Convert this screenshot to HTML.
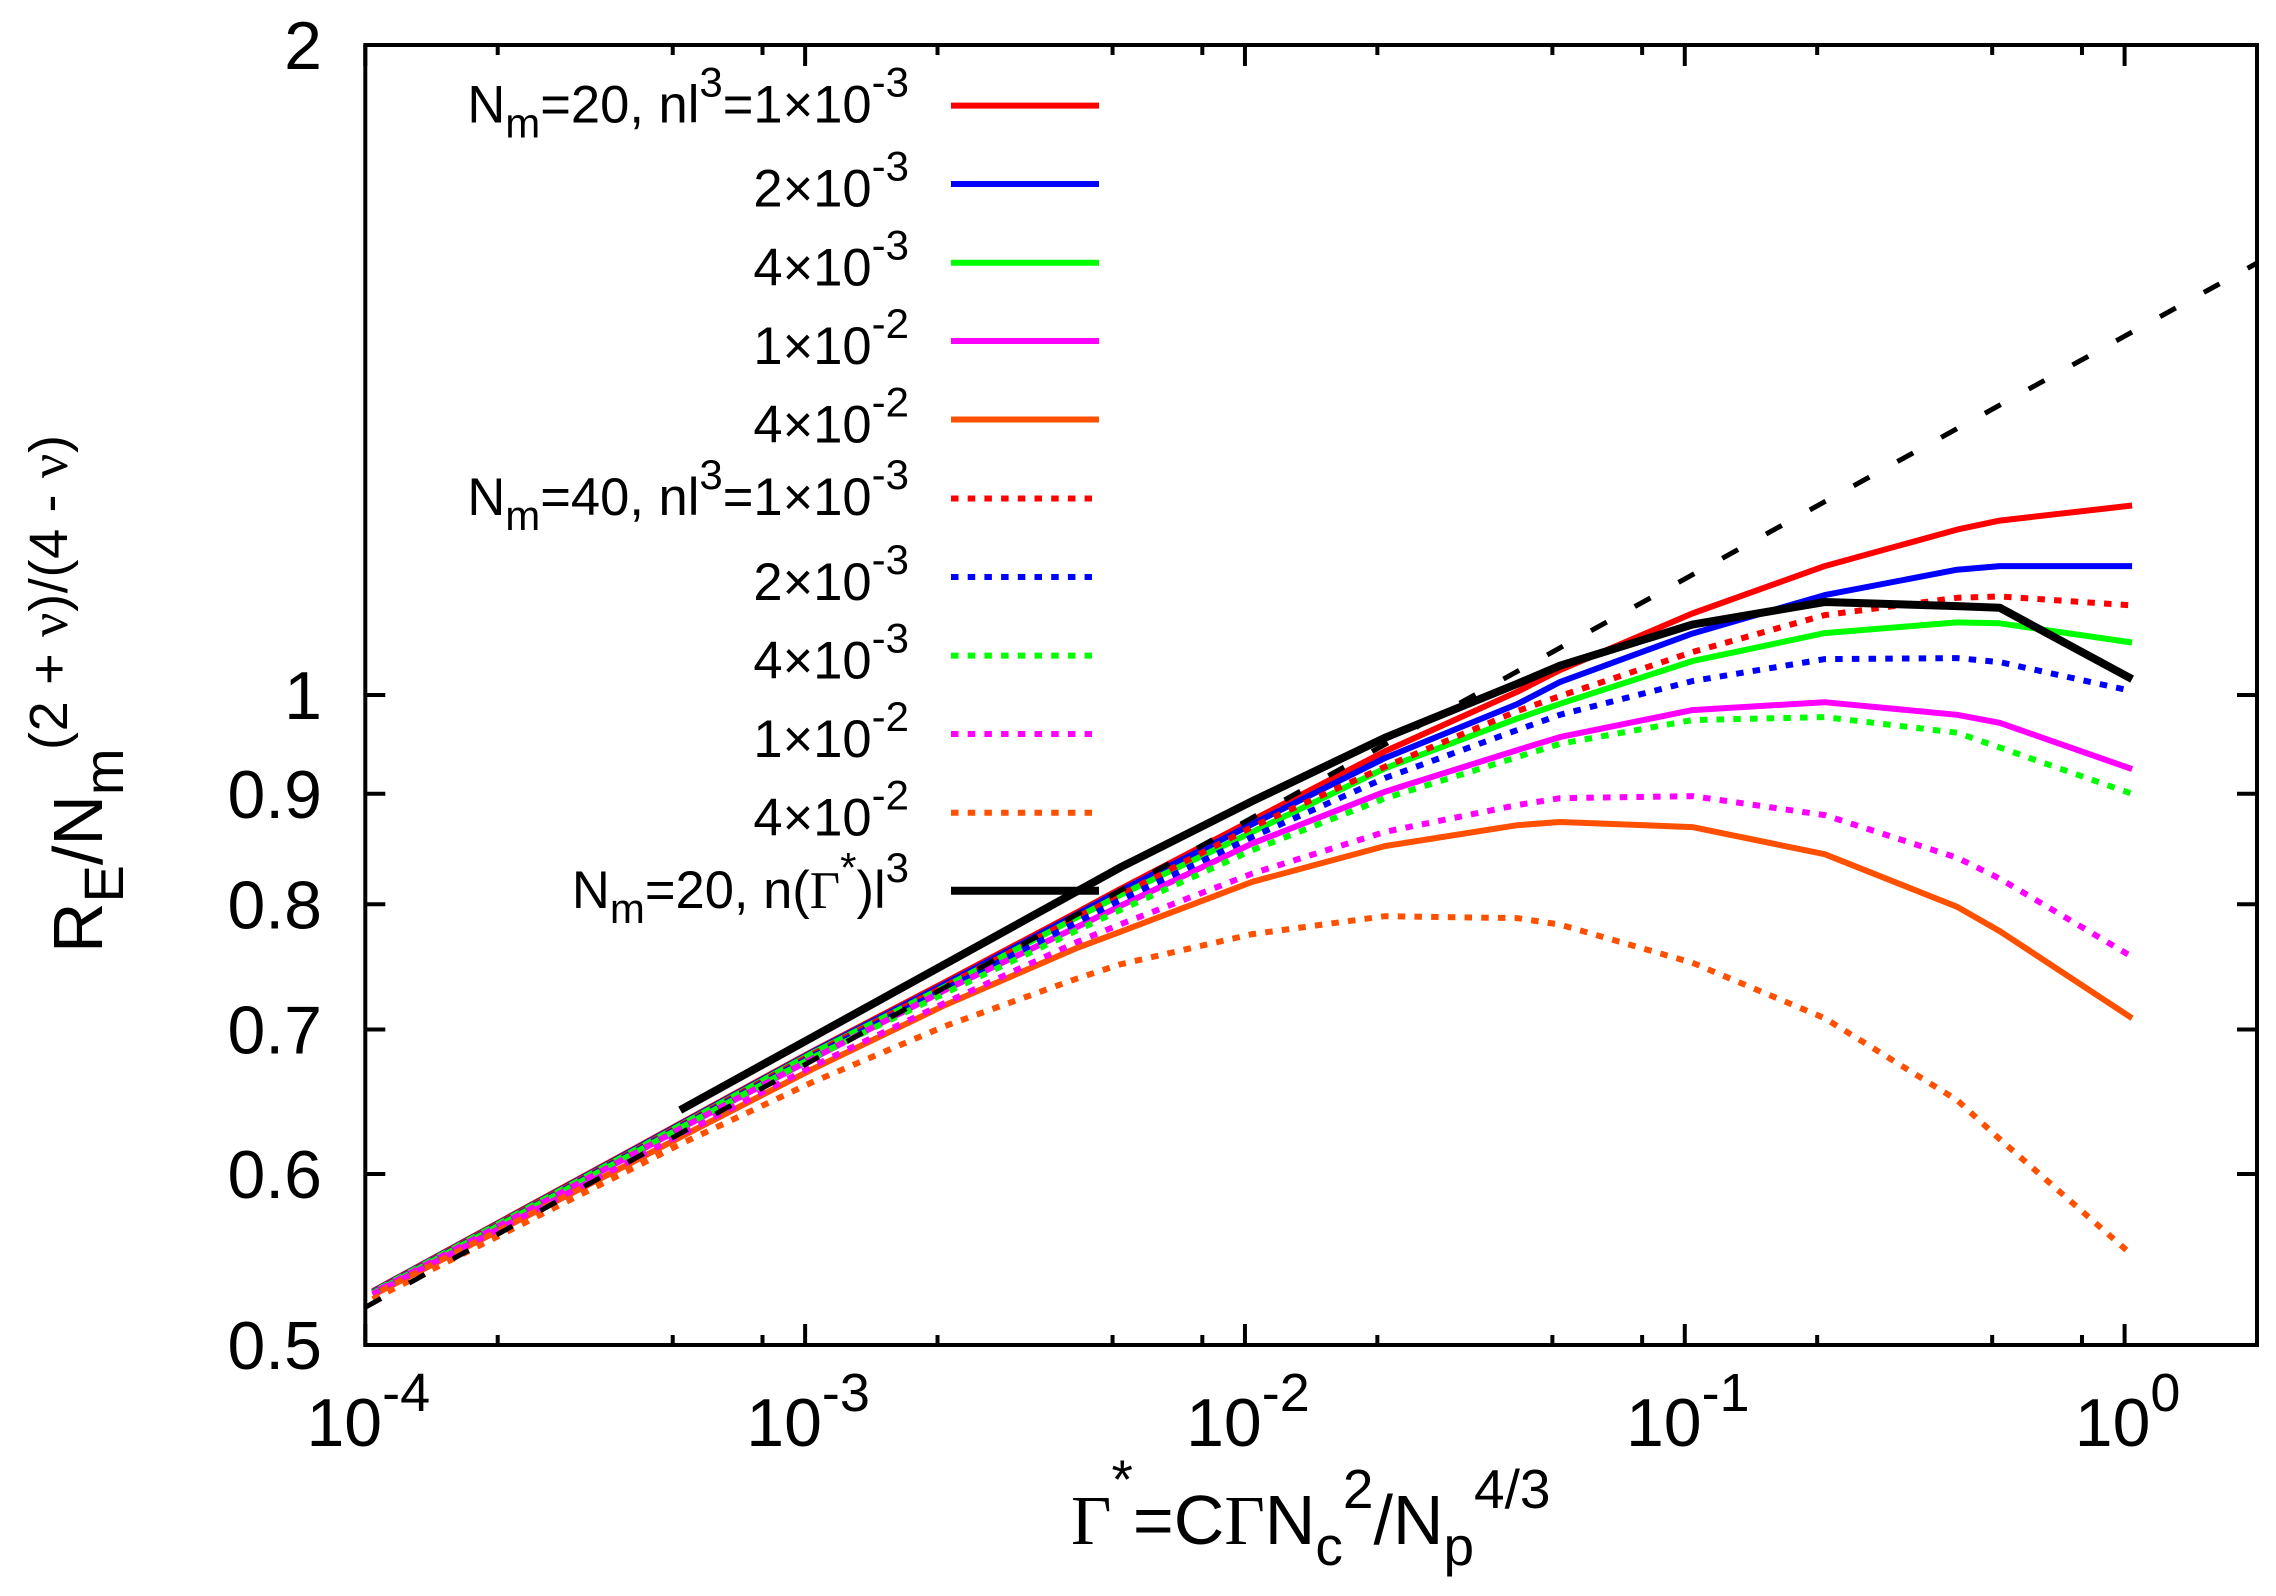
<!DOCTYPE html>
<html lang="en">
<head>
<meta charset="utf-8">
<title>R_E scaling chart</title>
<style>
html,body{margin:0;padding:0;background:#fff;}
svg{display:block;}
text{font-family:"Liberation Sans",sans-serif;fill:#000;}
.g{font-family:"Liberation Serif",serif;}
.leg{font-size:52.5px;text-anchor:end;}
</style>
</head>
<body>
<svg id="chart" xmlns="http://www.w3.org/2000/svg" width="2276" height="1596" viewBox="0 0 2276 1596">
<rect x="0" y="0" width="2276" height="1596" fill="#fff"/>
<g id="marks"></g>
<g id="axes"></g>

<g id="legend">
<text class="leg" x="909" y="122.5">N<tspan font-size="42" dy="15">m</tspan><tspan dy="-15">=20, nl</tspan><tspan font-size="42" dy="-26">3</tspan><tspan dy="26">=1×10</tspan><tspan font-size="42" dy="-26">-3</tspan></text>
<line x1="951" x2="1099" y1="105.6" y2="105.6" stroke="#ff0000" stroke-width="6"/>
<text class="leg" x="909" y="206.5">2×10<tspan font-size="42" dy="-26">-3</tspan></text>
<line x1="951" x2="1099" y1="184" y2="184" stroke="#0000ff" stroke-width="6"/>
<text class="leg" x="909" y="285.5">4×10<tspan font-size="42" dy="-26">-3</tspan></text>
<line x1="951" x2="1099" y1="262.7" y2="262.7" stroke="#00ff00" stroke-width="6"/>
<text class="leg" x="909" y="364">1×10<tspan font-size="42" dy="-26">-2</tspan></text>
<line x1="951" x2="1099" y1="341" y2="341" stroke="#ff00ff" stroke-width="6"/>
<text class="leg" x="909" y="442.5">4×10<tspan font-size="42" dy="-26">-2</tspan></text>
<line x1="951" x2="1099" y1="419.5" y2="419.5" stroke="#ff5000" stroke-width="6"/>
<text class="leg" x="909" y="515">N<tspan font-size="42" dy="15">m</tspan><tspan dy="-15">=40, nl</tspan><tspan font-size="42" dy="-26">3</tspan><tspan dy="26">=1×10</tspan><tspan font-size="42" dy="-26">-3</tspan></text>
<line x1="951" x2="1092" y1="498.5" y2="498.5" stroke="#ff0000" stroke-width="6" stroke-dasharray="7.5 9.2"/>
<text class="leg" x="909" y="600">2×10<tspan font-size="42" dy="-26">-3</tspan></text>
<line x1="951" x2="1092" y1="577" y2="577" stroke="#0000ff" stroke-width="6" stroke-dasharray="7.5 9.2"/>
<text class="leg" x="909" y="678.5">4×10<tspan font-size="42" dy="-26">-3</tspan></text>
<line x1="951" x2="1092" y1="655.6" y2="655.6" stroke="#00ff00" stroke-width="6" stroke-dasharray="7.5 9.2"/>
<text class="leg" x="909" y="757">1×10<tspan font-size="42" dy="-26">-2</tspan></text>
<line x1="951" x2="1092" y1="734" y2="734" stroke="#ff00ff" stroke-width="6" stroke-dasharray="7.5 9.2"/>
<text class="leg" x="909" y="835.5">4×10<tspan font-size="42" dy="-26">-2</tspan></text>
<line x1="951" x2="1092" y1="812.8" y2="812.8" stroke="#ff5000" stroke-width="6" stroke-dasharray="7.5 9.2"/>
<text class="leg" x="909" y="908">N<tspan font-size="42" dy="15">m</tspan><tspan dy="-15">=20, n(</tspan><tspan class="g">Γ</tspan><tspan font-size="42" dy="-26">*</tspan><tspan dy="26">)l</tspan><tspan font-size="42" dy="-26">3</tspan></text>
<line x1="951" x2="1099" y1="890.7" y2="890.7" stroke="#000" stroke-width="8"/>
</g>

<text x="1071" y="1544" font-size="70"><tspan class="g">Γ</tspan><tspan font-size="55" dy="-46">*</tspan><tspan dy="46">=C</tspan><tspan class="g">Γ</tspan><tspan>N</tspan><tspan font-size="55" dy="21">c</tspan><tspan font-size="55" dy="-57">2</tspan><tspan dy="36">/N</tspan><tspan font-size="55" dy="21">p</tspan><tspan font-size="55" dy="-57">4/3</tspan></text>

<g>
<text transform="translate(102,953) rotate(-90)" font-size="70">R<tspan font-size="56" dy="21">E</tspan><tspan dy="-21">/N</tspan><tspan font-size="56" dy="21">m</tspan></text>
<text transform="translate(67,750) rotate(-90)" font-size="54" textLength="315" lengthAdjust="spacing">(2 + <tspan class="g">ν</tspan>)/(4 - <tspan class="g">ν</tspan>)</text>
</g>
</svg>

<script>
const xValues = [1.04e-4,2.08e-4,4.16e-4,5.2e-4,1.04e-3,2.08e-3,4.16e-3,5.2e-3,1.04e-2,2.08e-2,4.16e-2,5.2e-2,1.04e-1,2.08e-1,4.16e-1,5.2e-1,1.04];
const blackXValues = [5.2e-4,1.04e-3,2.08e-3,4.16e-3,5.2e-3,1.04e-2,2.08e-2,4.16e-2,5.2e-2,1.04e-1,2.08e-1,4.16e-1,5.2e-1,1.04];
const refX = [1e-4,2];
const refY = [0.5205,1.585];

const nm20n1e3 = [.5295,.5719,.6176,.6332,.6840,.7362,.7933,.8130,.8751,.9416,1.0034,1.0269,1.0908,1.1474,1.1929,1.2044,1.2240];
const nm20n2e3 = [.5293,.5714,.6170,.6326,.6833,.7347,.7916,.8113,.8714,.9349,.9903,1.0139,1.0677,1.1124,1.1430,1.1474,1.1474];
const nm20n4e3 = [.5290,.5711,.6164,.6321,.6826,.7327,.7891,.8078,.8642,.9247,.9751,.9907,1.0368,1.0682,1.0805,1.0795,1.0576];
const nm20n1e2 = [.5284,.5698,.6144,.6297,.6786,.7300,.7810,.7984,.8536,.9019,.9429,.9561,.9840,.9924,.9791,.9708,.9240];
const nm20n4e2 = [.5273,.5669,.6094,.6240,.6710,.7184,.7637,.7768,.8194,.8512,.8704,.8733,.8686,.8439,.7978,.7774,.7085];
const nm40n1e3 = [.5290,.5710,.6162,.6317,.6818,.7331,.7891,.8078,.8689,.9263,.9830,.9988,1.0468,1.0889,1.1092,1.1108,1.1003];
const nm40n2e3 = [.5287,.5704,.6155,.6309,.6804,.7307,.7849,.8035,.8597,.9152,.9633,.9791,1.0149,1.0390,1.0401,1.0357,1.0042];
const nm40n4e3 = [.5284,.5700,.6148,.6302,.6793,.7277,.7782,.7950,.8476,.8956,.9359,.9493,.9736,.9767,.9606,.9456,.9000];
const nm40n1e2 = [.5279,.5679,.6109,.6256,.6731,.7201,.7686,.7830,.8267,.8642,.8892,.8958,.8978,.8798,.8407,.8222,.7564];
const nm40n4e2 = [.5250,.5637,.6052,.6194,.6618,.7025,.7392,.7503,.7749,.7899,.7883,.7828,.7517,.7085,.6492,.6228,.5503];
const nGamma = [.6423,.6943,.7505,.8113,.8319,.8930,.9554,1.0120,1.0317,1.0780,1.1042,1.0994,1.0976,1.0171];

const xMajorExponents = ["-4","-3","-2","-1","0"];
const xMinorMultipliers = [2,5,8];
const yTickValues = [0.5,0.6,0.7,0.8,0.9,1,2];
const yTickLabels = ["0.5","0.6","0.7","0.8","0.9","1","2"];

const PLOT = {l:365.3, r:2257, t:45, b:1345};
const X_MIN = 1e-4, X_MAX = 2, Y_MIN = 0.5, Y_MAX = 2;
const NS = "http://www.w3.org/2000/svg";
function xScale(v){return PLOT.l + (Math.log10(v)-Math.log10(X_MIN))/(Math.log10(X_MAX)-Math.log10(X_MIN))*(PLOT.r-PLOT.l);}
function yScale(v){return PLOT.b - (Math.log10(v)-Math.log10(Y_MIN))/(Math.log10(Y_MAX)-Math.log10(Y_MIN))*(PLOT.b-PLOT.t);}
function pts(xs,ys){return xs.map((x,i)=>xScale(x).toFixed(1)+","+yScale(ys[i]).toFixed(1)).join(" ");}

const marks = document.getElementById("marks");
const axes = document.getElementById("axes");

function addSeries(name,xs,ys,color,width,dash){
  const p = document.createElementNS(NS,"polyline");
  
  
  p.setAttribute("points",pts(xs,ys));
  p.setAttribute("fill","none");
  p.setAttribute("stroke",color);
  p.setAttribute("stroke-width",width);
  p.setAttribute("stroke-linejoin","round");
  if(dash) p.setAttribute("stroke-dasharray",dash);
  marks.appendChild(p);
}
const DOT = "7.5 9.2";
addSeries("line-nm20-1e-3",xValues,nm20n1e3,"#ff0000",6);
addSeries("line-nm20-2e-3",xValues,nm20n2e3,"#0000ff",6);
addSeries("line-nm20-4e-3",xValues,nm20n4e3,"#00ff00",6);
addSeries("line-nm20-1e-2",xValues,nm20n1e2,"#ff00ff",6);
addSeries("line-nm20-4e-2",xValues,nm20n4e2,"#ff5000",6);
addSeries("line-nm40-1e-3",xValues,nm40n1e3,"#ff0000",6,DOT);
addSeries("line-nm40-2e-3",xValues,nm40n2e3,"#0000ff",6,DOT);
addSeries("line-nm40-4e-3",xValues,nm40n4e3,"#00ff00",6,DOT);
addSeries("line-nm40-1e-2",xValues,nm40n1e2,"#ff00ff",6,DOT);
addSeries("line-nm40-4e-2",xValues,nm40n4e2,"#ff5000",6,DOT);
addSeries("line-nm20-n-gamma",blackXValues,nGamma,"#000",8);
addSeries("reference-power-law-line",refX,refY,"#000",5,"18 32");

function addLine(name,x1,y1,x2,y2){
  const l = document.createElementNS(NS,"line");
  
  
  l.setAttribute("x1",x1);
  l.setAttribute("y1",y1);
  l.setAttribute("x2",x2);
  l.setAttribute("y2",y2);
  l.setAttribute("stroke","#000");
  l.setAttribute("stroke-width",4);
  axes.appendChild(l);
}

const frame = document.createElementNS(NS,"rect");


frame.setAttribute("x",PLOT.l);
frame.setAttribute("y",PLOT.t);
frame.setAttribute("width",PLOT.r-PLOT.l);
frame.setAttribute("height",PLOT.b-PLOT.t);
frame.setAttribute("fill","none");
frame.setAttribute("stroke","#000");
frame.setAttribute("stroke-width",4);
axes.appendChild(frame);

xMajorExponents.forEach(function(e){
  const d = Math.pow(10,Number(e));
  const x = xScale(d);
  addLine("x-major-tick-bottom",x,PLOT.b,x,PLOT.b-21);
  addLine("x-major-tick-top",x,PLOT.t,x,PLOT.t+21);
  xMinorMultipliers.forEach(function(m){
    const v = m*d;
    if(v<X_MAX){
      const mx = xScale(v);
      addLine("x-minor-tick-bottom",mx,PLOT.b,mx,PLOT.b-10);
      addLine("x-minor-tick-top",mx,PLOT.t,mx,PLOT.t+10);
    }
  });
  const t = document.createElementNS(NS,"text");
  
  
  t.setAttribute("x",x+3);
  t.setAttribute("y",1446);
  t.setAttribute("font-size",68);
  t.setAttribute("text-anchor","middle");
  t.textContent = "10";
  const s = document.createElementNS(NS,"tspan");
  s.setAttribute("font-size",54);
  s.setAttribute("dy",-35);
  s.textContent = e;
  t.appendChild(s);
  axes.appendChild(t);
});

yTickValues.forEach(function(v,i){
  const y = yScale(v);
  if(v<Y_MAX && v>Y_MIN){
    addLine("y-tick-left",PLOT.l,y,PLOT.l+20,y);
    addLine("y-tick-right",PLOT.r,y,PLOT.r-20,y);
  }
  const t = document.createElementNS(NS,"text");
  
  
  t.setAttribute("x",322);
  t.setAttribute("y",y+24);
  t.setAttribute("font-size",68);
  t.setAttribute("text-anchor","end");
  t.textContent = yTickLabels[i];
  axes.appendChild(t);
});
</script>
</body>
</html>
